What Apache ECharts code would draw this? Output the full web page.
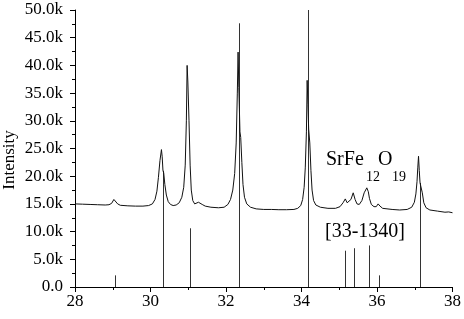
<!DOCTYPE html>
<html>
<head>
<meta charset="utf-8">
<script src="https://cdn.jsdelivr.net/npm/echarts@6/dist/echarts.min.js"></script>
<style>html,body{margin:0;padding:0;background:#fff}#c{width:464px;height:319px}</style>
</head>
<body>
<div id="c"></div>
<script>
// Measured XRD pattern (2-theta, intensity in counts)
const twoTheta = [28.00,28.20,28.40,28.60,28.80,28.90,28.97,29.03,29.08,29.13,29.20,29.40,29.60,29.80,29.95,30.05,30.12,30.17,30.21,30.25,30.29,30.31,30.33,30.35,30.38,30.42,30.47,30.53,30.60,30.68,30.76,30.83,30.88,30.92,30.95,30.97,30.99,31.02,31.05,31.08,31.12,31.17,31.22,31.27,31.32,31.37,31.45,31.60,31.80,31.95,32.05,32.12,32.18,32.23,32.27,32.30,32.32,32.34,32.37,32.39,32.42,32.45,32.49,32.55,32.65,32.80,33.00,33.20,33.40,33.60,33.80,33.90,33.98,34.03,34.07,34.10,34.13,34.15,34.17,34.19,34.22,34.25,34.28,34.32,34.38,34.50,34.70,34.90,35.02,35.10,35.16,35.21,35.26,35.31,35.37,35.42,35.47,35.53,35.60,35.66,35.73,35.77,35.80,35.85,35.92,35.98,36.03,36.08,36.15,36.40,36.60,36.80,36.92,36.99,37.03,37.06,37.08,37.10,37.12,37.14,37.17,37.20,37.24,37.30,37.40,37.60,37.80,37.90,38.00];
const intensity = [15000,14950,14900,14850,14800,14850,15100,15800,15500,15000,14750,14650,14600,14600,14700,15000,15800,17300,19800,22800,24800,23500,21000,20600,18500,16600,15400,14900,14700,14800,15200,16200,18000,22000,30000,40000,37000,30000,22000,17500,15600,15000,15000,15300,15300,14900,14600,14400,14300,14400,14900,15800,17500,20500,26000,35000,42400,36000,28000,27000,22500,18500,16200,15000,14400,14100,14000,14000,13950,13950,14000,14200,14700,15800,18000,21500,28000,37300,33000,28500,26000,21000,17500,15600,14800,14400,14200,14200,14500,15200,15900,15200,15000,15800,17000,15800,15000,14900,15600,17000,17900,17200,16000,14900,14500,14500,15000,14600,14200,14000,13900,14000,14400,15300,16800,19000,21500,23600,21000,18800,18800,17000,15200,14300,13900,13700,13500,13550,13400];
// Reference pattern sticks [33-1340]
const refTheta = [29.05,30.33,31.05,32.35,34.18,35.16,35.39,35.78,36.04,37.13];
const refIntensity = [2100,21000,10600,47600,50000,6550,7000,7500,2100,18800];
const xTicks = [28,30,32,34,36,38];
const yTickStep = 5000;

const FONT = '"Liberation Serif", "Times New Roman", serif';
const chart = echarts.init(document.getElementById('c'), null, {renderer:'canvas'});
const lineData = twoTheta.map((x,i)=>[x,intensity[i]]);
const stickData = refTheta.map((x,i)=>[x,refIntensity[i]]);

chart.setOption({
  animation:false,
  backgroundColor:'#fff',
  textStyle:{fontFamily:FONT},
  grid:{left:75, top:10, width:378, height:277},
  xAxis:{
    type:'value', min:xTicks[0], max:xTicks[xTicks.length-1], interval:2,
    axisLine:{show:true, onZero:false, lineStyle:{color:'#000', width:1}},
    axisTick:{show:true, inside:false, length:5, lineStyle:{color:'#000'}},
    minorTick:{show:true, splitNumber:2, length:3, lineStyle:{color:'#000'}},
    axisLabel:{color:'#000', fontFamily:FONT, fontSize:17, margin:6},
    splitLine:{show:false}
  },
  yAxis:{
    type:'value', min:0, max:50000, interval:yTickStep,
    axisLine:{show:true, lineStyle:{color:'#000', width:1}},
    axisTick:{show:true, inside:false, length:5, lineStyle:{color:'#000'}},
    minorTick:{show:true, splitNumber:2, length:3, lineStyle:{color:'#000'}},
    axisLabel:{color:'#000', fontFamily:FONT, fontSize:17, margin:12,
      formatter:v=> v===0 ? '0.0' : (v/1000).toFixed(1)+'k'},
    splitLine:{show:false}
  },
  series:[
    {
      type:'custom', clip:true,
      data:stickData,
      renderItem:(params, api)=>{
        const p0 = api.coord([api.value(0), 0]);
        const p1 = api.coord([api.value(0), api.value(1)]);
        return {type:'line', shape:{x1:Math.round(p0[0])+0.5, y1:p0[1], x2:Math.round(p1[0])+0.5, y2:p1[1]},
          style:{stroke:'#333', lineWidth:1}};
      },
      z:1
    },
    {
      type:'line', data:lineData, showSymbol:false, symbol:'none', smooth:false,
      lineStyle:{color:'#111', width:1}, z:2
    }
  ],
  graphic:[
    {type:'text', x:10, y:160, rotation:Math.PI/2,
      style:{text:'Intensity', font:'17px "Liberation Serif"', fill:'#000', align:'center', verticalAlign:'middle'}},
    {type:'text', x:326, y:150, style:{text:'SrFe', font:'20px "Liberation Serif"', fill:'#000'}},
    {type:'text', x:366, y:170, style:{text:'12', font:'14px "Liberation Serif"', fill:'#000'}},
    {type:'text', x:378, y:150, style:{text:'O', font:'20px "Liberation Serif"', fill:'#000'}},
    {type:'text', x:392, y:170, style:{text:'19', font:'14px "Liberation Serif"', fill:'#000'}},
    {type:'text', x:325, y:222, style:{text:'[33-1340]', font:'20px "Liberation Serif"', fill:'#000'}}
  ]
});
</script>
</body>
</html>
